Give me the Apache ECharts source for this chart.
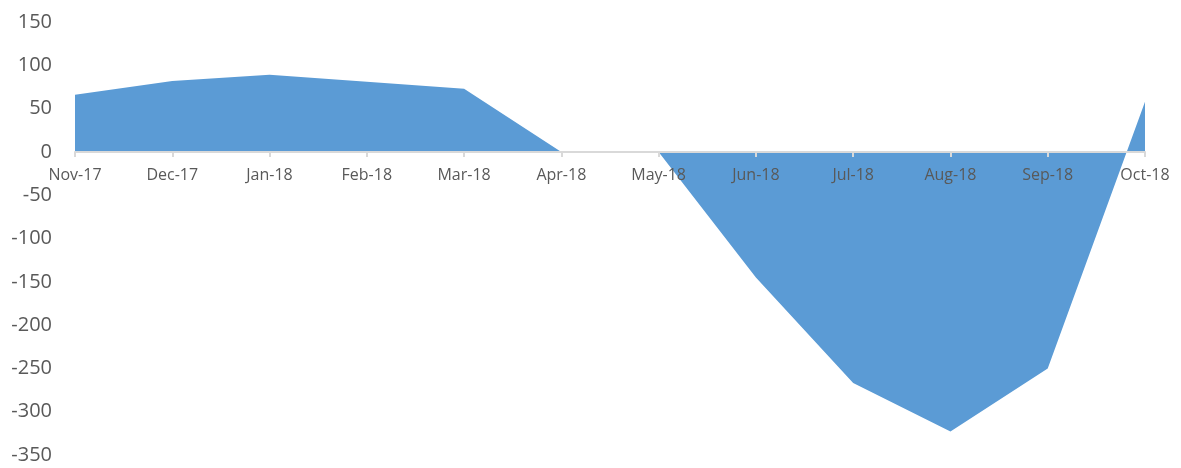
<!DOCTYPE html>
<html>
<head>
<meta charset="utf-8">
<script src="https://cdn.jsdelivr.net/npm/echarts@6/dist/echarts.min.js"></script>
<style>
html,body{margin:0;padding:0;background:#fff;}
#chart{width:1181px;height:468px;}
</style>
</head>
<body>
<div id="chart"></div>
<script>
const categories = ['Nov-17','Dec-17','Jan-18','Feb-18','Mar-18','Apr-18','May-18','Jun-18','Jul-18','Aug-18','Sep-18','Oct-18'];
const values = [66, 82, 89, 81, 73, 0, 0, -145, -267, -323, -250, 58];

const chart = echarts.init(document.getElementById('chart'));
chart.setOption({
  animation: false,
  grid: {left: 75, right: 36, top: 22, bottom: 13, containLabel: false, outerBoundsMode: 'none'},
  xAxis: {
    type: 'category',
    data: categories,
    boundaryGap: false,
    offset: -303,
    z: 10,
    axisLine: {onZero: false, lineStyle: {color: '#d9d9d9', width: 2}},
    axisTick: {show: true, alignWithLabel: true, length: 5, lineStyle: {color: '#d9d9d9', width: 2}},
    axisLabel: {color: '#595959', fontSize: 16, fontFamily: 'Open Sans, Liberation Sans, sans-serif', margin: 15, interval: 0},
    splitLine: {show: false}
  },
  yAxis: {
    type: 'value',
    min: -350, max: 150, interval: 50,
    axisLine: {show: false},
    axisTick: {show: false},
    splitLine: {show: false},
    axisLabel: {color: '#595959', fontSize: 20, fontFamily: 'Open Sans, Liberation Sans, sans-serif', margin: 23}
  },
  series: [{
    type: 'line',
    data: values,
    symbol: 'none',
    lineStyle: {width: 0},
    areaStyle: {color: '#5b9bd5', opacity: 1},
    z: 1
  }]
});
</script>
</body>
</html>
